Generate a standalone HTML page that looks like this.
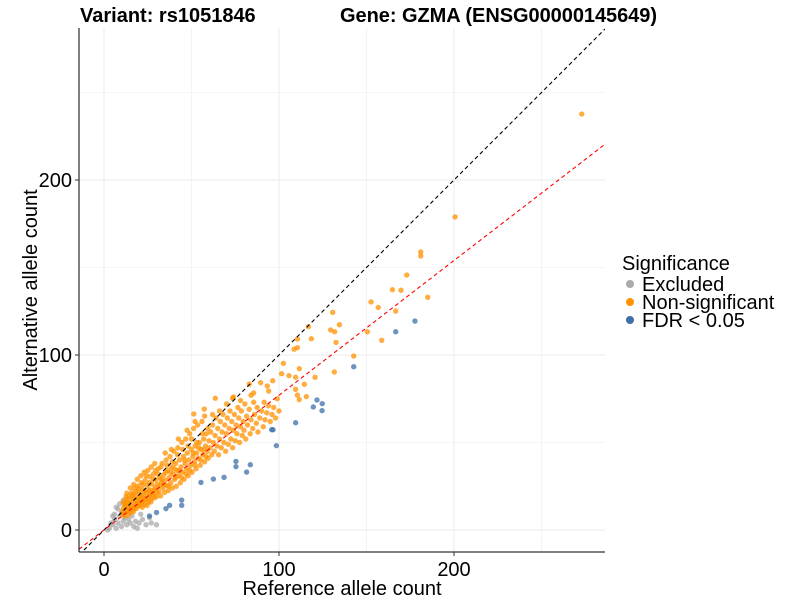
<!DOCTYPE html>
<html><head><meta charset="utf-8"><style>
body{margin:0;background:#fff;font-family:"Liberation Sans",sans-serif}
</style></head><body>
<svg id="c" width="800" height="600" xmlns="http://www.w3.org/2000/svg"></svg>
<script>
const xTicks=[0,100,200], yTicks=[0,100,200], minorTicks=[50,150,250];
const blueX=[177.7,166.7,142.7,121.7,124.7,119.6,124.6,109.5,95.8,96.6,98.5,75.4,83.6,75.4,81.5,68.6,62.5,55.4,44.4,44.4,37.5,35.4,30,26];
const blueY=[119.4,113.3,93.3,74.3,72.2,70.3,68.2,61.3,57.3,57.3,48.2,39.2,37.3,36.2,33.1,30.1,29.1,27.2,17.1,14.1,14.1,12.2,10,8];
const greyX=[5,6,8,9,10,11,12,7,13,14,15,16,17,18,20,22,24,26,10,8,6,4,3,13,19,27,30,2,15,21,9,11,7,12,14,5];
const greyY=[3,6,4,8,2,5,7,1,3,6,4,8,2,5,4,6,3,7,10,12,9,4,1,11,1,4,3,0,13,9,15,17,13,14,10,8];
const orangePairs=[[10.5,9],[11.2,12.5],[11.8,15],[12.3,10.2],[12.9,17.5],[13.4,13],[13.8,8.5],[14.2,19],[14.7,11.5],[15.1,15.8],[15.6,21],[16,13.2],[16.4,17.8],[16.9,10.5],[17.3,23.5],[17.7,15.2],[18.2,19.6],[18.6,12.4],[19.1,25],[19.5,16.8],[19.9,21.7],[20.4,13.9],[20.8,18.3],[21.3,27],[21.7,15.5],[22.1,23.2],[22.6,19.8],[23,14.6],[23.5,28.5],[23.9,17.3],[24.3,21.4],[24.8,25.6],[25.2,15.9],[25.7,19.1],[26.1,30.5],[26.5,22.8],[27,17.6],[27.4,26.2],[27.9,20.5],[28.3,32],[28.7,18.4],[29.2,24.1],[29.6,28.7],[30.1,21.3],
[10.8,11],[11.5,8],[12.1,14],[12.6,19],[13.1,11],[13.6,16],[14.5,13],[15.3,10],[15.9,18.5],[16.7,20.5],[17.1,12],[17.9,17],[18.4,22],[19.3,14],[20.1,24],[20.6,16],[21.1,20],[21.9,13],[22.4,26],[23.2,22],[23.7,18],[24.1,31],[24.6,14],[25.5,23],[25.9,27],[26.8,16],[27.6,21],[28.1,29],[28.9,23],[29.4,34],[29.9,19],
[11,16],[13,21],[15,24],[17,26],[19,29],[21,31],[23,33],[25,34],[27,36],[29,38],[14,15],[18,14],[22,17],[26,20],[20,19],
[30.5,26],[31,35],[31.4,22],[31.9,30],[32.3,19.5],[32.8,27.5],[33.2,38],[33.7,24],[34.1,31.5],[34.6,21.5],[35,28.5],[35.5,40],[35.9,25.5],[36.4,34],[36.8,22.5],[37.3,30],[37.7,42],[38.2,27],[38.6,36],[39.1,24],[39.5,32],[40,45],[40.4,29],[40.9,38],[41.3,25],[41.8,34],[42.2,47],[42.7,31],[43.1,40],[43.6,27],[44,36],[44.5,50],[44.9,33],[45.4,42],[45.8,29],[46.3,38],[46.7,52],[47.2,35],[47.6,44],[48.1,31],[48.5,40],[49,55],[49.4,37],[49.9,46],[50.3,33],[50.8,42],[51.2,58],[51.7,39],[52.1,48],[52.6,35],[53,44],[53.5,60],[54,41],[54.5,50],[55,37],[55.5,46],[56,62],[56.5,43],[57,52],[57.5,39],[58,48],[58.5,55],[59,45],[59.5,41],[60,51],
[30.8,32],[31.6,25],[32.5,36],[33,29],[34,26],[35.2,33],[36,37],[37,25],[38,33],[39,39],[40.2,35],[41,30],[42,43],[43,34],[44.2,30],[45,46],[46,40],[47,32],[48,48],[49,34],[50,52],[51,44],[52,37],[53,50],[54.2,47],[55.2,40],[56.2,55],[57.2,46],[58.3,42],[59.3,58],[42.5,52],[47.5,57],[38.5,46],[35,44],[52,62],
[60.5,47],[61,56],[61.5,43],[62,60],[62.5,50],[63,45],[63.5,54],[64,64],[64.5,48],[65,58],[65.5,43],[66,52],[66.5,62],[67,47],[67.5,56],[68,66],[68.5,50],[69,60],[69.5,45],[70,55],[70.5,64],[71,49],[71.5,58],[72,68],[72.5,52],[73,62],[73.5,47],[74,57],[74.5,66],[75,51],[75.5,60],[76,55],[76.5,70],[77,64],[77.5,50],[78,59],[78.5,68],[79,54],[79.5,62],[80,57],[80.5,72],[81,52],[81.5,65],[82,60],[83,69],[83.5,55],[84,63],[85,58],[85.5,73],[86,66],[87,61],[87.5,70],[88,56],[89,64],[90,68],[91,59],[91.5,73],[92,63],[93,67],[94,71],[95,62],[96,66],[97,70],[98,64],[99,75],[100,68],[62,66],[66,68],[70,72],[74,76],[78,74],[84,77],
[273,237.7],[200.6,178.9],[181,158.9],[181,156.6],[173,145.7],[185,133],[169.7,137],[164.8,137.3],[152.6,130.3],[156.7,127.2],[166.7,125.1],[130.7,124.4],[150.5,113.3],[158.7,108.4],[134.5,117.3],[129.5,114.3],[131.8,113.3],[132.6,107.2],[118.5,109.3],[110.5,109.1],[110.5,104.2],[108.6,103.3],[116.8,116.2],[142.7,99.4],[131.6,90.3],[120.6,87.3],[114.5,83.3],[102.5,95.2],[111.6,92.2],[101.5,89.3],[105.7,88.2],[109.5,87.3],[96.4,85.3],[109.5,80.4],[110.5,77.1],[111.6,74.5],[115.6,76.2],[89.5,84.2],[93.3,82.3],[94.1,79.4],[85.5,78.3],[83,83.4],[63.6,75.3],[73.5,75.3],[57.3,69.1],[51.3,66.3],[57.5,65.1]];
const redSlope=0.77;

const svg=document.getElementById('c');const NS='http://www.w3.org/2000/svg';
const L=79,R=605,T=28,B=552;
const sx=v=>104+v*1.75, sy=v=>530-v*1.75;
const xmin=(L-104)/1.75, xmax=(R-104)/1.75;
function el(t,a,p){const e=document.createElementNS(NS,t);for(const k in a)e.setAttribute(k,a[k]);(p||svg).appendChild(e);return e;}
const defs=el('defs',{});const cp=el('clipPath',{id:'clip'},defs);el('rect',{x:L,y:T,width:R-L,height:B-T},cp);
const grid=el('g',{});


minorTicks.concat(xTicks).forEach(v=>{el('line',{x1:sx(v),x2:sx(v),y1:T,y2:B,stroke:'#ebebeb','stroke-width':minorTicks.includes(v)?0.6:1},grid);});
minorTicks.concat(yTicks).forEach(v=>{el('line',{x1:L,x2:R,y1:sy(v),y2:sy(v),stroke:'#ebebeb','stroke-width':minorTicks.includes(v)?0.6:1},grid);});
const pts=el('g',{'clip-path':'url(#clip)'});


function dot(x,y,c,n){const d=el('circle',{cx:sx(x),cy:sy(y),r:2.7,fill:c,'fill-opacity':0.75},pts);

}
greyX.forEach((x,i)=>dot(x,greyY[i],'#aaaaaa','excluded-point'));
orangePairs.forEach(p=>dot(p[0],p[1],'#ff9200','non-significant-point'));
blueX.forEach((x,i)=>dot(x,blueY[i],'#3d6fa8','fdr-point'));
const ln=el('g',{'clip-path':'url(#clip)'});
const bl=el('line',{x1:sx(xmin),y1:sy(xmin),x2:sx(xmax),y2:sy(xmax),stroke:'#000','stroke-width':1.1,'stroke-dasharray':'4,3'},ln);


const rl=el('line',{x1:sx(xmin),y1:sy(xmin*redSlope),x2:sx(xmax),y2:sy(xmax*redSlope),stroke:'#ff0000','stroke-width':1.1,'stroke-dasharray':'4,3'},ln);


el('line',{x1:L,x2:L,y1:T,y2:B,stroke:'#000','stroke-width':1});
el('line',{x1:L,x2:R,y1:B,y2:B,stroke:'#000','stroke-width':1});
function txt(s,a,n){const t=el('text',Object.assign({'font-size':20,fill:'#000'},a));t.textContent=s;

return t;}
xTicks.forEach(v=>{el('line',{x1:sx(v),x2:sx(v),y1:B,y2:B+4,stroke:'#333'});txt(v,{x:sx(v),y:B+24,'text-anchor':'middle'},'x-tick-label');});
yTicks.forEach(v=>{el('line',{x1:L-4,x2:L,y1:sy(v),y2:sy(v),stroke:'#333'});txt(v,{x:L-7,y:sy(v)+7,'text-anchor':'end'},'y-tick-label');});
txt('Reference allele count',{x:342,y:595,'text-anchor':'middle'},'x-axis-title');
txt('Alternative allele count',{x:37,y:290,'text-anchor':'middle',transform:'rotate(-90 37 290)'},'y-axis-title');
txt('Variant: rs1051846',{x:80,y:22,'font-weight':'bold'},'variant-title');
txt('Gene: GZMA (ENSG00000145649)',{x:340,y:22,'font-weight':'bold',textLength:317},'gene-title');
txt('Significance',{x:622,y:270},'legend-title');
[['Excluded','#aaaaaa'],['Non-significant','#ff9200'],['FDR < 0.05','#3d6fa8']].forEach((e,i)=>{
const y=284+i*18;const c=el('circle',{cx:630,cy:y,r:4,fill:e[1]});


txt(e[0],{x:642,y:y+7},'legend-entry');});
</script>
</body></html>
